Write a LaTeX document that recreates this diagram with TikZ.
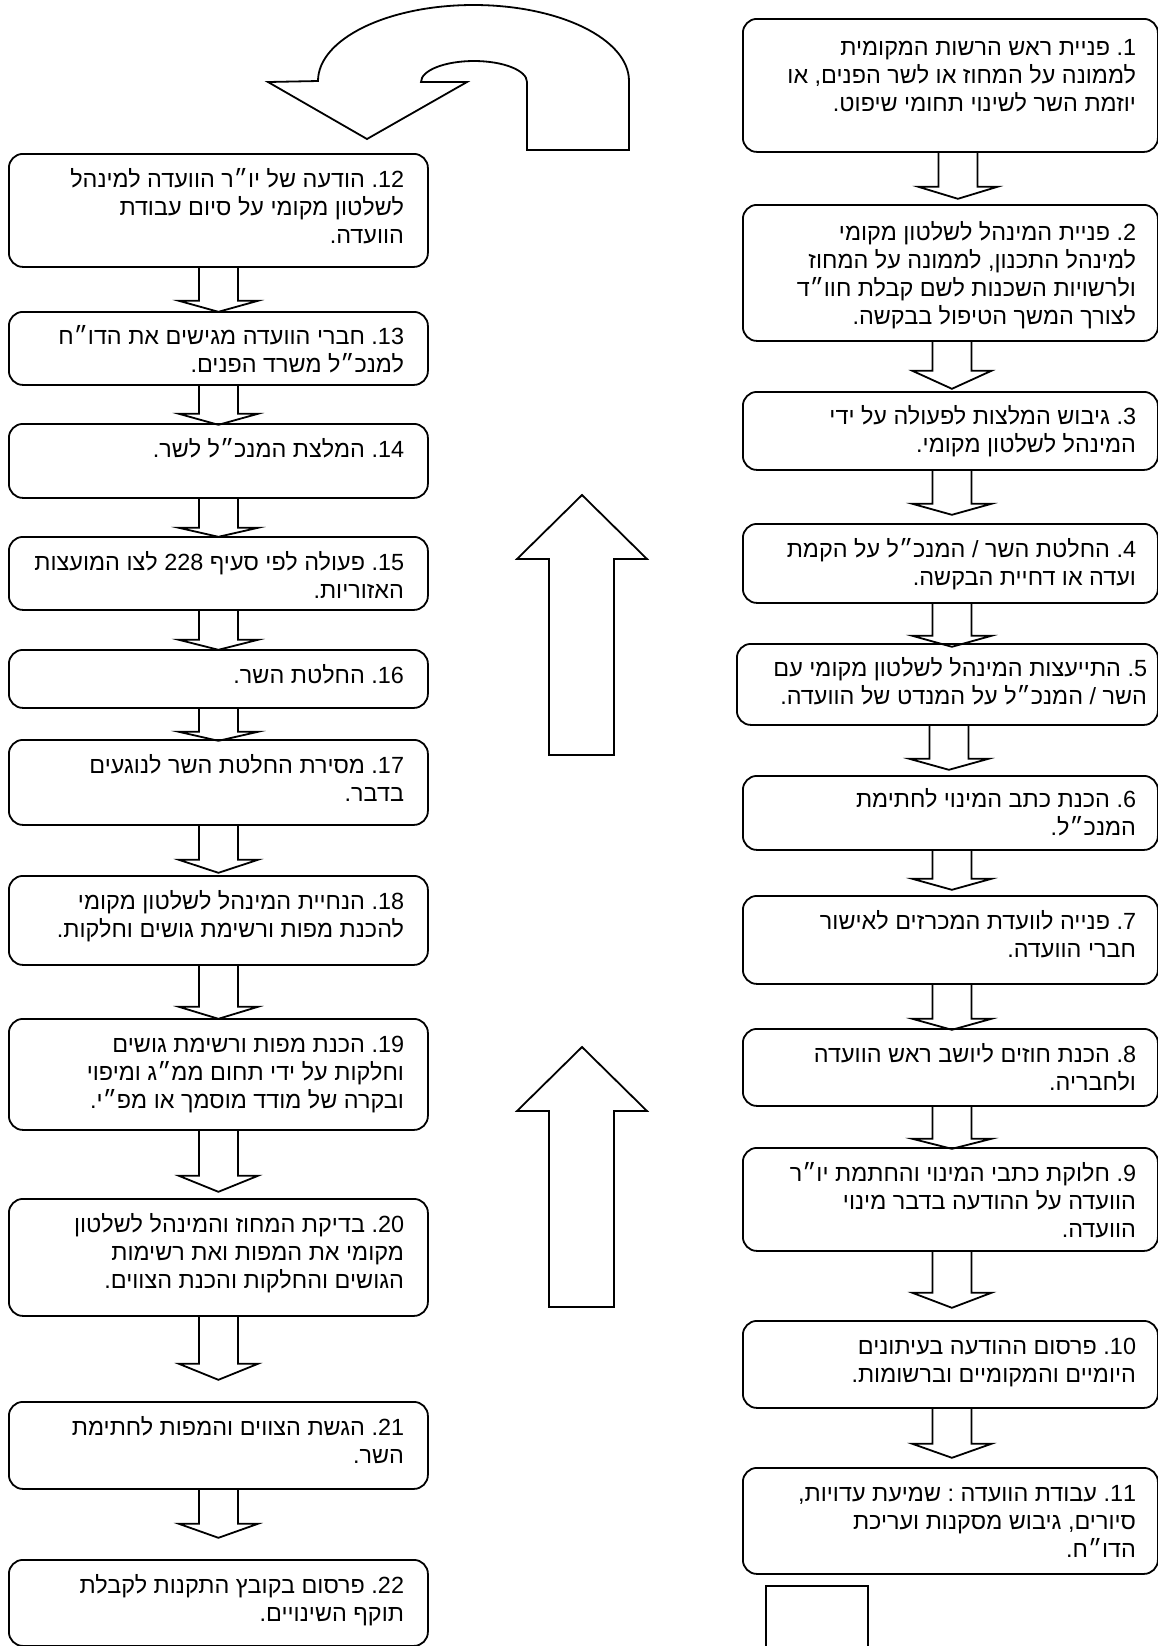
\documentclass[tikz,border=0pt]{standalone}
\usepackage{fontspec}
\setmainfont{Liberation Sans}
\newfontfamily\hebfont[Script=Hebrew]{Liberation Sans}
\usetikzlibrary{calc}
\TeXXeTstate=1
\frenchspacing
\newcommand{\hl}[1]{\hbox to 0pt{\hss\beginR #1\endR}}
\newcommand{\stk}[1]{\vtop{\baselineskip=14pt\lineskiplimit=-20pt\lineskip=0pt #1}}
\newcommand{\nm}[1]{\beginL#1\endL.}
\newcommand{\darr}[4]{%
\draw[blk] ($(#1.south)+(#2-19.5,0)$) -- ($(#1.south)+(#2-19.5,#3)$) -- ($(#1.south)+(#2-39.5,#3)$) -- ($(#1.south)+(#2,#4)$) -- ($(#1.south)+(#2+39.5,#3)$) -- ($(#1.south)+(#2+19.5,#3)$) -- ($(#1.south)+(#2+19.5,0)$);}
\tikzset{
  box/.style={draw, line width=0.9pt, rounded corners=7pt, anchor=north west, inner sep=0pt},
  blk/.style={draw, line width=0.9pt, line join=miter},
  txt/.style={inner sep=0pt, anchor=base, font=\hebfont\fontsize{11.7}{14}\selectfont}
}
\begin{document}
\begin{tikzpicture}[x=0.5pt,y=-0.5pt]
\useasboundingbox (0,0) rectangle (1158,1646);
% right column boxes
\node[box, minimum width=207.5pt, minimum height=66.5pt] (b1) at (742,18) {};
\node[box, minimum width=207.5pt, minimum height=68pt] (b2) at (742,204) {};
\node[box, minimum width=207.5pt, minimum height=39pt] (b3) at (742,391) {};
\node[box, minimum width=207.5pt, minimum height=39.5pt] (b4) at (742,523) {};
\node[box, minimum width=210.5pt, minimum height=40.5pt] (b5) at (736,643) {};
\node[box, minimum width=207.5pt, minimum height=37pt] (b6) at (742,775) {};
\node[box, minimum width=207.5pt, minimum height=44pt] (b7) at (742,895) {};
\node[box, minimum width=207.5pt, minimum height=38.5pt] (b8) at (742,1028) {};
\node[box, minimum width=207.5pt, minimum height=51.5pt] (b9) at (742,1147) {};
\node[box, minimum width=207.5pt, minimum height=43.5pt] (b10) at (742,1320) {};
\node[box, minimum width=207.5pt, minimum height=53pt] (b11) at (742,1467) {};
% left column boxes
\node[box, minimum width=209.5pt, minimum height=56.5pt] (b12) at (8,153) {};
\node[box, minimum width=209.5pt, minimum height=36.5pt] (b13) at (8,311) {};
\node[box, minimum width=209.5pt, minimum height=37pt] (b14) at (8,423) {};
\node[box, minimum width=209.5pt, minimum height=36.5pt] (b15) at (8,536) {};
\node[box, minimum width=209.5pt, minimum height=29pt] (b16) at (8,649) {};
\node[box, minimum width=209.5pt, minimum height=42.5pt] (b17) at (8,739) {};
\node[box, minimum width=209.5pt, minimum height=44.5pt] (b18) at (8,875) {};
\node[box, minimum width=209.5pt, minimum height=55.5pt] (b19) at (8,1018) {};
\node[box, minimum width=209.5pt, minimum height=58.5pt] (b20) at (8,1198) {};
\node[box, minimum width=209.5pt, minimum height=43.5pt] (b21) at (8,1401) {};
\node[box, minimum width=209.5pt, minimum height=43pt] (b22) at (8,1559) {};
% texts right
\node[txt] (t1) at (1136,55) {\stk{\hl{\nm{1} פניית ראש הרשות המקומית}\hl{לממונה על המחוז או לשר הפנים, או}\hl{יוזמת השר לשינוי תחומי שיפוט.}}};
\node[txt] (t2) at (1136,240) {\stk{\hl{\nm{2} פניית המינהל לשלטון מקומי}\hl{למינהל התכנון, לממונה על המחוז}\hl{ולרשויות השכנות לשם קבלת חוו״ד}\hl{לצורך המשך הטיפול בבקשה.}}};
\node[txt] (t3) at (1136,424) {\stk{\hl{\nm{3} גיבוש המלצות לפעולה על ידי}\hl{המינהל לשלטון מקומי.}}};
\node[txt] (t4) at (1136,557) {\stk{\hl{\nm{4} החלטת השר / המנכ״ל על הקמת}\hl{ועדה או דחיית הבקשה.}}};
\node[txt] (t5) at (1147,676) {\stk{\hl{\nm{5} התייעצות המינהל לשלטון מקומי עם}\hl{השר / המנכ״ל על המנדט של הוועדה.}}};
\node[txt] (t6) at (1136,807) {\stk{\hl{\nm{6} הכנת כתב המינוי לחתימת}\hl{המנכ״ל.}}};
\node[txt] (t7) at (1136,929) {\stk{\hl{\nm{7} פנייה לוועדת המכרזים לאישור}\hl{חברי הוועדה.}}};
\node[txt] (t8) at (1136,1062) {\stk{\hl{\nm{8} הכנת חוזים ליושב ראש הוועדה}\hl{ולחבריה.}}};
\node[txt] (t9) at (1136,1181) {\stk{\hl{\nm{9} חלוקת כתבי המינוי והחתמת יו״ר}\hl{הוועדה על ההודעה בדבר מינוי}\hl{הוועדה.}}};
\node[txt] (t10) at (1136,1354) {\stk{\hl{\nm{10} פרסום ההודעה בעיתונים}\hl{היומיים והמקומיים וברשומות.}}};
\node[txt] (t11) at (1136,1501) {\stk{\hl{\nm{11} עבודת הוועדה : שמיעת עדויות,}\hl{סיורים, גיבוש מסקנות ועריכת}\hl{הדו״ח.}}};
% texts left
\node[txt] (t12) at (404,187) {\stk{\hl{\nm{12} הודעה של יו״ר הוועדה למינהל}\hl{לשלטון מקומי על סיום עבודת}\hl{הוועדה.}}};
\node[txt] (t13) at (404,344) {\stk{\hl{\nm{13} חברי הוועדה מגישים את הדו״ח}\hl{למנכ״ל משרד הפנים.}}};
\node[txt] (t14) at (404,457) {\stk{\hl{\nm{14} המלצת המנכ״ל לשר.}}};
\node[txt] (t15) at (404,570) {\stk{\hl{\nm{15} פעולה לפי סעיף \beginL228\endL{} לצו המועצות}\hl{האזוריות.}}};
\node[txt] (t16) at (404,683) {\stk{\hl{\nm{16} החלטת השר.}}};
\node[txt] (t17) at (404,773) {\stk{\hl{\nm{17} מסירת החלטת השר לנוגעים}\hl{בדבר.}}};
\node[txt] (t18) at (404,909) {\stk{\hl{\nm{18} הנחיית המינהל לשלטון מקומי}\hl{להכנת מפות ורשימת גושים וחלקות.}}};
\node[txt] (t19) at (404,1052) {\stk{\hl{\nm{19} הכנת מפות ורשימת גושים}\hl{וחלקות על ידי תחום ממ״ג ומיפוי}\hl{ובקרה של מודד מוסמך או מפ״י.}}};
\node[txt] (t20) at (404,1232) {\stk{\hl{\nm{20} בדיקת המחוז והמינהל לשלטון}\hl{מקומי את המפות ואת רשימות}\hl{הגושים והחלקות והכנת הצווים.}}};
\node[txt] (t21) at (404,1435) {\stk{\hl{\nm{21} הגשת הצווים והמפות לחתימת}\hl{השר.}}};
\node[txt] (t22) at (404,1593) {\stk{\hl{\nm{22} פרסום בקובץ התקנות לקבלת}\hl{תוקף השינויים.}}};
% down arrows right
\darr{b1}{7.5}{34}{46}
\darr{b2}{1.5}{29}{47}
\darr{b3}{1.5}{33}{44}
\darr{b4}{1.5}{32}{43}
\darr{b5}{1.5}{33}{44}
\darr{b6}{1.5}{28}{39}
\darr{b7}{1.5}{34}{45}
\darr{b8}{1.5}{32}{42}
\darr{b9}{1.5}{41}{56}
\darr{b10}{1.5}{35}{49}
% down arrows left
\darr{b12}{0}{33}{44}
\darr{b13}{0}{28}{39}
\darr{b14}{0}{29}{38}
\darr{b15}{0}{29}{39}
\darr{b16}{0}{23}{32}
\darr{b17}{0}{34}{47}
\darr{b18}{0}{41}{53}
\darr{b19}{0}{45}{61}
\darr{b20}{0}{47}{63}
\darr{b21}{0}{34}{48}
% arrow stub below box 11
\draw[blk] (766,1646) -- (766,1586) -- (868,1586) -- (868,1646);
% up arrows in the middle
\draw[blk] (549,755) -- (549,559) -- (517,559) -- (582,495) -- (647,559) -- (614,559) -- (614,755) -- cycle;
\draw[blk] (549,1307) -- (549,1111) -- (517,1111) -- (582,1047) -- (647,1111) -- (614,1111) -- (614,1307) -- cycle;
% U-turn arrow at top
\draw[blk] (629,150) -- (629,81) arc[start angle=0, end angle=180, x radius=77.75pt, y radius=38pt]
  -- (268,82) -- (367,139) -- (467,82) -- (421,82)
  arc[start angle=180, end angle=0, x radius=26.5pt, y radius=10.5pt]
  -- (527,150) -- cycle;
\end{tikzpicture}
\end{document}
